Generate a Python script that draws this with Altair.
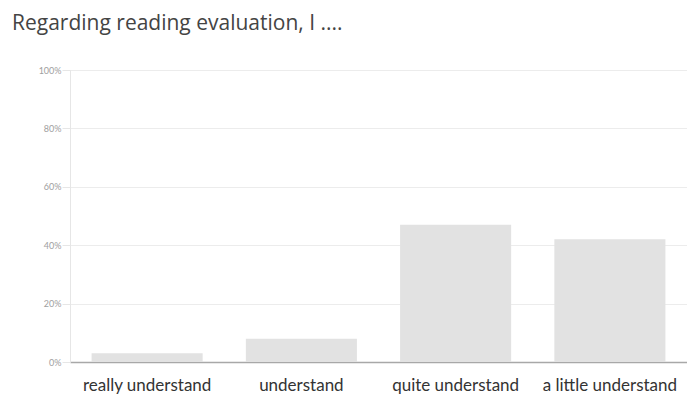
import altair as alt
import pandas as pd

# Survey responses: share of respondents per answer (percent)
answers = ["really understand", "understand", "quite understand", "a little understand"]
shares = [3, 8, 47, 42]
y_ticks = [0, 20, 40, 60, 80, 100]

df = pd.DataFrame({"answer": answers, "share": shares})

bars = alt.Chart(df).mark_bar(color="#e2e2e2").encode(
    x=alt.X(
        "answer:N",
        sort=answers,
        title=None,
        scale=alt.Scale(paddingInner=0.28, paddingOuter=0.14),
        axis=alt.Axis(
            labelAngle=0,
            labelFont="Lato",
            labelFontSize=17,
            labelColor="#333333",
            labelPadding=15,
            ticks=False,
            domainColor="#a8a8a8",
            domainWidth=1.5,
            grid=False,
        ),
    ),
    y=alt.Y(
        "share:Q",
        title=None,
        scale=alt.Scale(domain=[0, 100], nice=False),
        axis=alt.Axis(
            values=y_ticks,
            labelExpr="datum.value + '%'",
            labelFont="Lato",
            labelFontSize=9,
            labelColor="#a0a0a0",
            labelPadding=1,
            tickSize=8,
            tickColor="#e6e6e6",
            gridColor="#ececec",
            domainColor="#e6e6e6",
        ),
    ),
)

chart = bars.properties(
    width=617,
    height=292,
    title=alt.TitleParams(
        "Regarding reading evaluation, I ....",
        anchor="start",
        frame="group",
        font="Open Sans",
        fontSize=21,
        fontWeight="normal",
        color="#444444",
        dx=-58,
        offset=32,
    ),
    padding={"left": 70, "top": 70, "right": 0, "bottom": 34},
    autosize=alt.AutoSizeParams(type="none"),
).configure_view(stroke=None).configure(background="white")

chart.save("out.html", embed_options={"renderer": "svg", "actions": False})
